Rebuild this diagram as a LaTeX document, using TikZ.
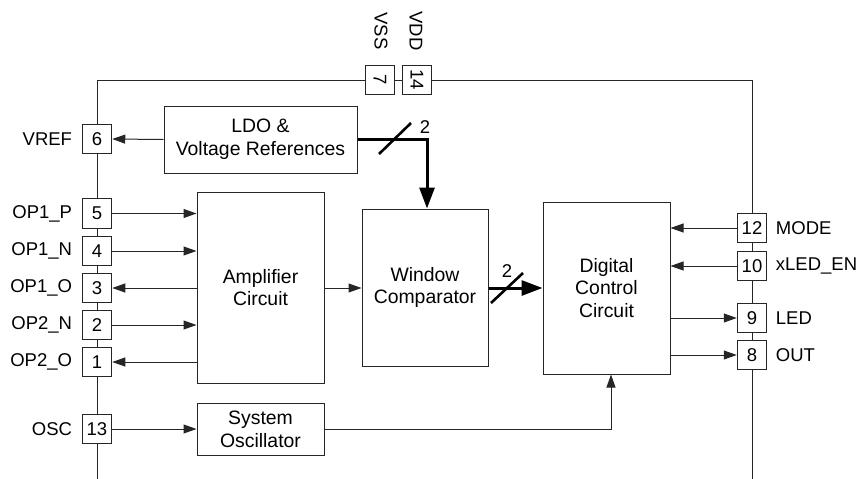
\documentclass[tikz,border=0pt]{standalone}
\usepackage{fontspec}
\setmainfont{Liberation Sans}
\usetikzlibrary{arrows.meta}
\begin{document}
\begin{tikzpicture}[x=1pt,y=-1pt,
  line/.style={draw=black!85, line width=1pt},
  pinbox/.style={draw=black!85, line width=1pt, fill=white, minimum size=29.5pt, inner sep=0pt, font=\fontsize{18.5}{21}\selectfont},
  blk/.style={draw=black!85, line width=1pt, fill=white, align=center, inner sep=0pt, font=\fontsize{19.4}{22.7}\selectfont},
  lbl/.style={font=\fontsize{18.5}{21}\selectfont, inner sep=0pt},
  arr/.style={line, -{Triangle[length=13pt,width=9pt]}},
  bus/.style={draw=black, line width=3pt, -{Triangle[length=21pt,width=15pt]}},
  slash/.style={draw=black, line width=2.6pt},
]
\useasboundingbox (0,0) rectangle (859,479);

% chip outline
\draw[line] (97,479) -- (97,80) -- (752,80) -- (752,479);

% blocks
\node[blk, minimum width=193pt, minimum height=67pt] (ldo) at (260.5,139.5) {LDO \&\\Voltage References};
\node[blk, minimum width=127pt, minimum height=191pt] (amp) at (260.5,287.5) {Amplifier\\Circuit};
\node[blk, minimum width=126pt, minimum height=157pt] (wc) at (425,287.5) {Window\\Comparator};
\node[blk, minimum width=127pt, minimum height=172pt] (dig) at (606.5,288) {Digital\\Control\\Circuit};
\node[blk, minimum width=127pt, minimum height=52pt] (osc) at (260.5,429) {System\\Oscillator};

% left pins
\node[pinbox] (p6) at (97,139) {6};
\node[pinbox] (p5) at (97,213.5) {5};
\node[pinbox] (p4) at (97,251) {4};
\node[pinbox] (p3) at (97,288) {3};
\node[pinbox] (p2) at (97,325) {2};
\node[pinbox] (p1) at (97,362) {1};
\node[pinbox] (p13) at (97,429) {13};

% right pins
\node[pinbox] (p12) at (752,228) {12};
\node[pinbox] (p10) at (752,266) {10};
\node[pinbox] (p9) at (752,318) {9};
\node[pinbox] (p8) at (752,355) {8};

% top pins
\node[pinbox, rotate=-90] (p7) at (380,80) {7};
\node[pinbox, rotate=-90] (p14) at (417,80) {14};

% labels
\node[lbl, anchor=east] (l6) at ([xshift=-9.5pt]p6.west) {VREF};
\node[lbl, anchor=east] (l5) at ([xshift=-9.5pt]p5.west) {OP1\_P};
\node[lbl, anchor=east] (l4) at ([xshift=-9.5pt]p4.west) {OP1\_N};
\node[lbl, anchor=east] (l3) at ([xshift=-9.5pt]p3.west) {OP1\_O};
\node[lbl, anchor=east] (l2) at ([xshift=-9.5pt]p2.west) {OP2\_N};
\node[lbl, anchor=east] (l1) at ([xshift=-9.5pt]p1.west) {OP2\_O};
\node[lbl, anchor=east] (l13) at ([xshift=-9.5pt]p13.west) {OSC};
\node[lbl, anchor=west] (l12) at ([xshift=8.5pt]p12.east) {MODE};
\node[lbl, anchor=west] (l10) at ([xshift=8.5pt]p10.east) {xLED\_EN};
\node[lbl, anchor=west] (l9) at ([xshift=8.5pt]p9.east) {LED};
\node[lbl, anchor=west] (l8) at ([xshift=8.5pt]p8.east) {OUT};
\node[lbl, rotate=-90] (l7) at (381,31) {VSS};
\node[lbl, rotate=-90] (l14) at (416,31) {VDD};

% connectors
\draw[arr] (ldo.west) -- (p6.east);
\draw[arr] (p5.east) -- (p5.east -| amp.west);
\draw[arr] (p4.east) -- (p4.east -| amp.west);
\draw[arr] (p3.east -| amp.west) -- (p3.east);
\draw[arr] (p2.east) -- (p2.east -| amp.west);
\draw[arr] (p1.east -| amp.west) -- (p1.east);
\draw[arr] (p13.east) -- (osc.west);
\draw[arr] (amp.east |- p3.east) -- (wc.west |- p3.east);
\draw[arr] (p12.west) -- (p12.west -| dig.east);
\draw[arr] (p10.west) -- (p10.west -| dig.east);
\draw[arr] (p9.west -| dig.east) -- (p9.west);
\draw[arr] (p8.west -| dig.east) -- (p8.west);
\draw[arr] (osc.east) -| ([xshift=4.5pt]dig.south);

% buses
\draw[bus, line join=miter] (ldo.east) -| ([xshift=2pt]wc.north);
\draw[slash] (379,154) -- (411,123);
\node[lbl] (n1) at (425,127) {2};
\draw[bus] (wc.east |- p3.east) -- (dig.west |- p3.east);
\draw[slash] (491,303) -- (523,273);
\node[lbl] (n2) at (507,271) {2};
\end{tikzpicture}
\end{document}
